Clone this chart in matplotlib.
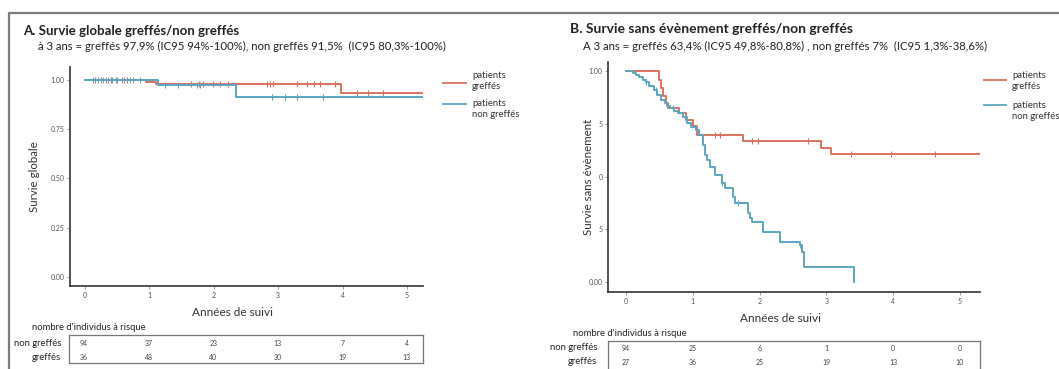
import matplotlib
matplotlib.use('Agg')
import matplotlib.pyplot as plt
import numpy as np
from matplotlib.lines import Line2D

plt.rcParams['font.family'] = ['Lato', 'DejaVu Sans']

W, H = 1059, 369
RED = '#d9735e'
BLUE = '#5aa6c2'
GREY = '#555555'

# ---------------- data ----------------
year_ticks = [0, 1, 2, 3, 4, 5]
y_ticks = [0.0, 0.25, 0.5, 0.75, 1.0]
y_labels_a = ['0.00', '0.25', '0.50', '0.75', '1.00']
y_labels_b = ['0.00', '5', '0', '5', '1.00']

# Panel A: overall survival
a_graft_t = [0, 0.95, 1.10, 3.97, 5.25]
a_graft_s = [1.0, 0.99, 0.979, 0.933, 0.933]
a_non_t = [0, 1.14, 2.35, 5.25]
a_non_s = [1.0, 0.975, 0.915, 0.915]
a_graft_cens = [0.15, 0.25, 0.32, 0.40, 0.48, 0.57, 0.65, 0.75, 1.64, 1.77, 1.83,
                1.99, 2.09, 2.22, 2.82, 2.87, 2.92, 3.29, 3.45, 3.55, 3.65, 3.89,
                4.22, 4.40, 4.63]
a_non_cens = [0.12, 0.20, 0.28, 0.35, 0.42, 0.50, 0.60, 0.70, 0.85, 1.25,
              1.45, 1.74, 1.79, 2.90, 3.10, 3.30, 3.70]
risk_a_non = [94, 37, 23, 13, 7, 4]
risk_a_graft = [36, 48, 40, 30, 19, 13]

# Panel B: event-free survival
b_graft_t = [0, 0.50, 0.53, 0.56, 0.60, 0.63, 0.80, 0.90, 1.00, 1.06, 1.75,
             2.92, 3.07, 5.30]
b_graft_s = [1.0, 0.96, 0.92, 0.88, 0.85, 0.825, 0.80, 0.77, 0.74, 0.697, 0.668,
             0.635, 0.607, 0.607]
b_non_t = [0, 0.10, 0.15, 0.20, 0.25, 0.30, 0.35, 0.42, 0.47, 0.53, 0.58, 0.62,
           0.66, 0.72, 0.78, 0.85, 0.92, 0.98, 1.05, 1.10, 1.15, 1.18, 1.21,
           1.26, 1.33, 1.43, 1.48, 1.60, 1.63, 1.82, 1.85, 1.88, 2.05, 2.30,
           2.60, 2.63, 2.67, 3.42]
b_non_s = [1.0, 0.99, 0.98, 0.97, 0.957, 0.947, 0.93, 0.91, 0.886, 0.865, 0.85,
           0.835, 0.825, 0.81, 0.80, 0.78, 0.755, 0.735, 0.72, 0.697, 0.65, 0.60,
           0.578, 0.545, 0.507, 0.469, 0.445, 0.403, 0.374, 0.327, 0.305, 0.284,
           0.237, 0.19, 0.175, 0.142, 0.071, 0.0]
b_graft_cens = [1.33, 1.40, 1.88, 1.97, 2.72, 3.37, 3.97, 4.63]
b_non_cens = [0.30, 0.45, 0.70, 1.43, 1.67, 2.60]
risk_b_non = [94, 25, 6, 1, 0, 0]
risk_b_graft = [27, 36, 25, 19, 13, 10]

# ---------------- helpers ----------------
fig = plt.figure(figsize=(W / 100, H / 100), dpi=100)


def fx(x):
    return x / W


def fy(y):
    return 1 - y / H


def ftext(x, y, s, **kw):
    kw.setdefault('va', 'center')
    fig.text(fx(x), fy(y), s, **kw)


def fline(x0, x1, y0, y1, color, lw=1.3):
    fig.add_artist(Line2D([fx(x0), fx(x1)], [fy(y0), fy(y1)],
                          transform=fig.transFigure, color=color, lw=lw))


def step_val(t, s, x):
    idx = np.searchsorted(np.asarray(t), x, side='right') - 1
    return np.asarray(s)[idx]


def km_axes(rect, xlim, ylim, ylabels, curves):
    ax = fig.add_axes(rect)
    for t, s, cens, col in curves:
        ax.step(t, s, where='post', color=col, lw=1.4)
        ax.plot(cens, step_val(t, s, cens), ls='none', marker='|', ms=4,
                mew=0.8, color=col)
    ax.set_xlim(*xlim)
    ax.set_ylim(*ylim)
    ax.set_xticks(year_ticks)
    ax.set_xticklabels([str(v) for v in year_ticks])
    ax.set_yticks(y_ticks)
    ax.set_yticklabels(ylabels)
    for sp in ['top', 'right']:
        ax.spines[sp].set_visible(False)
    for sp in ['left', 'bottom']:
        ax.spines[sp].set_color('#333333')
        ax.spines[sp].set_linewidth(1.2)
    ax.tick_params(labelsize=5, colors='#888888', labelcolor=GREY, length=2,
                   width=0.6, pad=2)
    return ax


def risk_axes(rect, xlim, rows):
    ax = fig.add_axes(rect)
    ax.set_xlim(*xlim)
    ax.set_ylim(0, 1)
    ax.set_xticks([])
    ax.set_yticks([])
    for sp in ax.spines.values():
        sp.set_color('#777777')
        sp.set_linewidth(0.9)
    for vals, yf in rows:
        for xv, v in zip(year_ticks, vals):
            ax.text(xv, yf, str(v), ha='center', va='center', fontsize=5,
                    color='#444444')
    return ax


# ---------------- frame ----------------
fig.add_artist(Line2D([fx(9), fx(9), fx(1059)], [fy(369), fy(13), fy(13)],
                      transform=fig.transFigure, color='#7d7d7d', lw=1.6))

# ---------------- panel A ----------------
a_left, a_right = 70, 423
a_xlim = (-0.233, 5.25)
a_ylim = (-0.046, 1.066)
ax_a = km_axes([fx(a_left), fy(286), (a_right - a_left) / W, (286 - 67) / H],
               a_xlim, a_ylim, y_labels_a,
               [(a_graft_t, a_graft_s, a_graft_cens, RED),
                (a_non_t, a_non_s, a_non_cens, BLUE)])
ax_a.set_ylabel('Survie globale', fontsize=8.3, color='#333333', va='center')
ax_a.yaxis.set_label_coords((35 - a_left) / (a_right - a_left), 0.5)
ax_a.set_xlabel('Années de suivi', fontsize=8.5, color='#333333')
ax_a.xaxis.set_label_coords((233 - a_left) / (a_right - a_left), -(312 - 286) / (286 - 67))
ax_a.xaxis.label.set_va('center')

ftext(23, 31, 'A. Survie globale greffés/non greffés', fontsize=9.5,
      fontweight='bold', color='#222222')
ftext(38, 46, 'à 3 ans = greffés 97,9% (IC95 94%-100%), non greffés 91,5%  (IC95 80,3%-100%)',
      fontsize=8.2, color='#222222')

fline(443, 466, 83, 83, RED)
ftext(472, 81, 'patients\ngreffés', fontsize=6.8, color='#333333', linespacing=1.2)
fline(443, 466, 104, 104, BLUE)
ftext(472, 109, 'patients\nnon greffés', fontsize=6.8, color='#333333',
      linespacing=1.2)

ftext(32, 327, "nombre d'individus à risque", fontsize=6.8, color='#222222')
risk_axes([fx(69), fy(363), (423 - 69) / W, 28 / H], a_xlim,
          [(risk_a_non, 0.714), (risk_a_graft, 0.214)])
ftext(61, 343, 'non greffés', fontsize=6.8, color='#222222', ha='right')
ftext(61, 357, 'greffés', fontsize=6.8, color='#222222', ha='right')

# ---------------- panel B ----------------
b_left, b_right = 608, 980
b_xlim = (-0.27, 5.3)
b_ylim = (-0.047, 1.043)
ax_b = km_axes([fx(b_left), fy(292), (b_right - b_left) / W, (292 - 62) / H],
               b_xlim, b_ylim, y_labels_b,
               [(b_graft_t, b_graft_s, b_graft_cens, RED),
                (b_non_t, b_non_s, b_non_cens, BLUE)])
ax_b.set_ylabel('Survie sans évènement', fontsize=8.3, color='#333333', va='center')
ax_b.yaxis.set_label_coords((588 - b_left) / (b_right - b_left), 0.5)
ax_b.set_xlabel('Années de suivi', fontsize=8.5, color='#333333')
ax_b.xaxis.set_label_coords((781 - b_left) / (b_right - b_left), -(318 - 292) / (292 - 62))
ax_b.xaxis.label.set_va('center')

ftext(570, 29, 'B. Survie sans évènement greffés/non greffés', fontsize=10,
      fontweight='bold', color='#222222')
ftext(583, 46, 'A 3 ans = greffés 63,4% (IC95 49,8%-80,8%) , non greffés 7%  (IC95 1,3%-38,6%)',
      fontsize=8.2, color='#222222')

fline(984, 1006, 80, 80, RED)
ftext(1012, 81, 'patients\ngreffés', fontsize=6.8, color='#333333', linespacing=1.2)
fline(984, 1006, 105, 105, BLUE)
ftext(1012, 111, 'patients\nnon greffés', fontsize=6.8, color='#333333',
      linespacing=1.2)

ftext(573, 333, "nombre d'individus à risque", fontsize=6.8, color='#222222')
risk_axes([fx(b_left), fy(375), (b_right - b_left) / W, 34 / H], b_xlim,
          [(risk_b_non, 0.794), (risk_b_graft, 0.382)])
ftext(597, 348, 'non greffés', fontsize=6.8, color='#222222', ha='right')
ftext(597, 362, 'greffés', fontsize=6.8, color='#222222', ha='right')

fig.savefig('out.png', dpi=100)
